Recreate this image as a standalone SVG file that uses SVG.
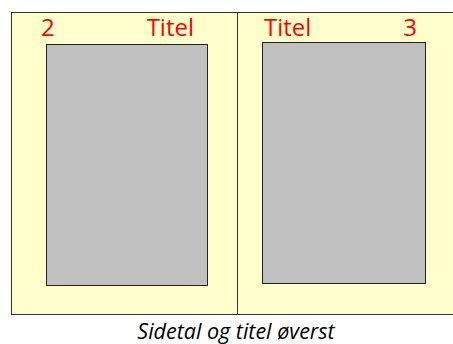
<svg xmlns="http://www.w3.org/2000/svg" width="453" height="344" viewBox="0 0 453 344">
<style>
.page{fill:#FFFFCC;stroke:#333;stroke-width:1}
.block{fill:#C0C0C0;stroke:#222;stroke-width:1}
.hdr{font-family:"Open Sans","Liberation Sans",sans-serif;font-size:24px;fill:#FF0000}
.cap{font-family:"Open Sans","Liberation Sans",sans-serif;font-size:21.5px;font-style:italic;fill:#000}
</style>
<rect width="453" height="344" fill="#fff"/>
<g id="left-page">
<rect class="page" x="11.5" y="12.5" width="226" height="302"/>
<rect class="block" x="46.5" y="44.5" width="161" height="241"/>
<text class="hdr" x="41" y="35.5">2</text>
<text class="hdr" x="194" y="35.5" text-anchor="end">Titel</text>
</g>
<g id="right-page">
<rect class="page" x="237.5" y="12.5" width="220" height="302"/>
<rect class="block" x="262.5" y="42.5" width="163" height="241"/>
<text class="hdr" x="264" y="35.5">Titel</text>
<text class="hdr" x="417" y="35.5" text-anchor="end">3</text>
</g>
<text class="cap" x="236" y="339" text-anchor="middle">Sidetal og titel øverst</text>
</svg>
